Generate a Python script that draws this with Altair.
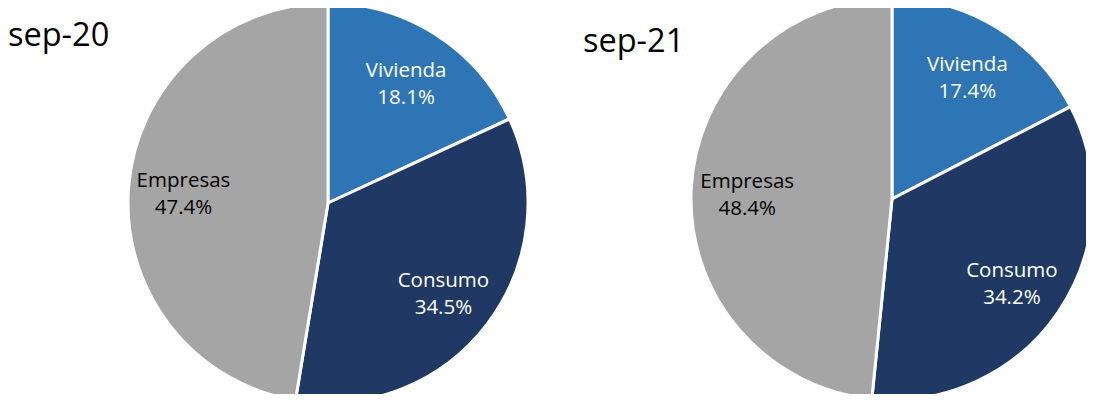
import altair as alt
import pandas as pd

categories = ["Vivienda", "Consumo", "Empresas"]
values_sep20 = [18.1, 34.5, 47.4]
values_sep21 = [17.4, 34.2, 48.4]
titles = ["sep-20", "sep-21"]
colors = ["#2E75B6", "#203864", "#A5A5A5"]

FONT = "Open Sans"


def make_df(vals):
    return pd.DataFrame({
        "cat": categories,
        "value": vals,
        "idx": list(range(len(categories))),
        "pct": [f"{v:.1f}%" for v in vals],
    })


def pie(vals, cx, cy, r, rl):
    base = alt.Chart(make_df(vals)).encode(
        theta=alt.Theta("value:Q", stack=True),
        order=alt.Order("idx:Q"),
    )
    arc = base.mark_arc(stroke="white", strokeWidth=3).encode(
        color=alt.Color("cat:N", scale=alt.Scale(domain=categories, range=colors), legend=None),
        x=alt.value(cx), y=alt.value(cy), radius=alt.value(r),
    )
    tcolor = alt.condition(alt.datum.cat == "Empresas", alt.value("#000000"), alt.value("#FFFFFF"))
    t1 = base.mark_text(radius=rl, font=FONT, fontSize=20.5, dy=-10, baseline="middle").encode(
        text="cat:N", color=tcolor, x=alt.value(cx), y=alt.value(cy),
    )
    t2 = base.mark_text(radius=rl, font=FONT, fontSize=20.5, dy=17, baseline="middle").encode(
        text="pct:N", color=tcolor, x=alt.value(cx), y=alt.value(cy),
    )
    return alt.layer(arc, t1, t2)


tdf = pd.DataFrame({"title": titles, "i": [0, 1]})
title1 = alt.Chart(tdf).transform_filter(alt.datum.i == 0).mark_text(
    font=FONT, fontSize=32.5, align="left", baseline="alphabetic", color="#000000"
).encode(text="title:N", x=alt.value(0), y=alt.value(38))
title2 = alt.Chart(tdf).transform_filter(alt.datum.i == 1).mark_text(
    font=FONT, fontSize=32.5, align="left", baseline="alphabetic", color="#000000"
).encode(text="title:N", x=alt.value(575), y=alt.value(44))

chart = alt.layer(
    pie(values_sep20, 320, 195, 200, 145),
    pie(values_sep21, 884, 191, 201, 145),
    title1, title2,
).resolve_scale(theta="independent", color="independent").properties(
    width=1078, height=386, autosize=alt.AutoSizeParams(type="none"), padding=0,
).configure_view(stroke=None)

chart.save("out.html", embed_options={"renderer": "svg", "actions": False})
